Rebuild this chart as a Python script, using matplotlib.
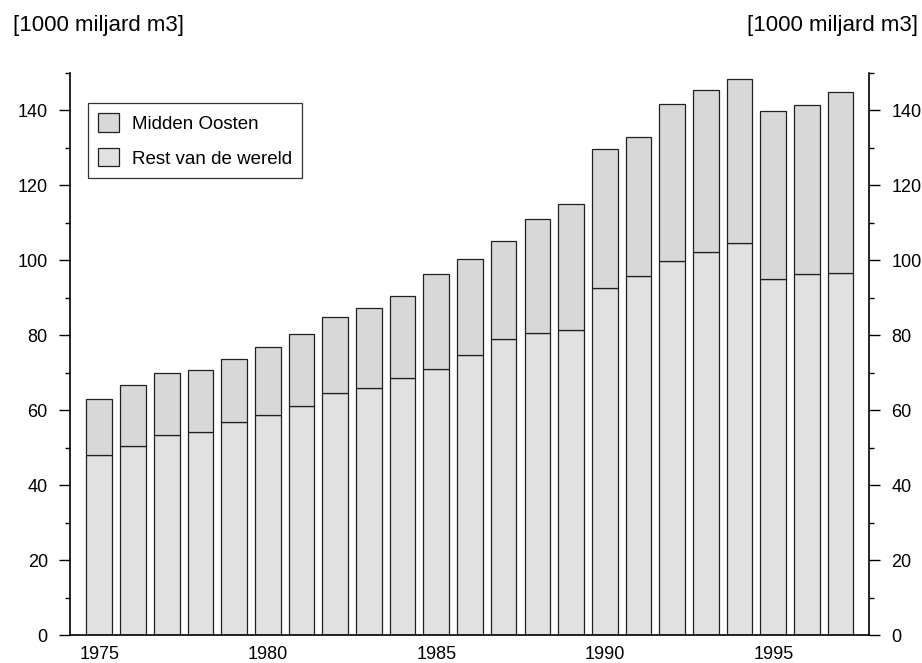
import matplotlib
matplotlib.use("Agg")
import matplotlib.pyplot as plt
from matplotlib.ticker import MultipleLocator
import numpy as np

plt.rcParams['font.family'] = ['Liberation Sans', 'DejaVu Sans']

years = list(range(1975, 1998))
rest_van_de_wereld = [48.0, 50.5, 53.4, 54.2, 56.8, 58.7, 61.0, 64.5, 66.0, 68.5,
                      71.1, 74.7, 79.0, 80.6, 81.5, 92.6, 95.9, 99.8, 102.2, 104.7,
                      95.1, 96.3, 96.7]
midden_oosten = [15.1, 16.2, 16.4, 16.6, 16.8, 18.1, 19.4, 20.3, 21.3, 21.9,
                 25.3, 25.6, 26.2, 30.4, 33.6, 37.0, 37.0, 42.0, 43.3, 43.7,
                 44.7, 45.2, 48.2]
year_labels = [1975, 1980, 1985, 1990, 1995]
unit_label = "[1000 miljard m3]"

fig = plt.figure(figsize=(9.22, 6.63), dpi=100)
ax = fig.add_axes([0.0759, 0.0422, 0.8666, 0.8477])

edge = '#202020'
lw = 0.9
width = 0.76
b_rest = ax.bar(years, rest_van_de_wereld, width=width, color='#e1e1e1',
                edgecolor=edge, linewidth=lw, label='Rest van de wereld')
b_mo = ax.bar(years, midden_oosten, width=width, bottom=rest_van_de_wereld,
              color='#d8d8d8', edgecolor=edge, linewidth=lw, label='Midden Oosten')

ax.set_xlim(1974.13, 1997.84)
ax.set_ylim(0, 150)

ax.spines['top'].set_visible(False)
for side in ['left', 'right', 'bottom']:
    ax.spines[side].set_linewidth(1.2)
    ax.spines[side].set_color('black')

ax.yaxis.set_major_locator(MultipleLocator(20))
ax.yaxis.set_minor_locator(MultipleLocator(10))
ax.tick_params(axis='y', which='major', direction='out', length=8, width=1.0,
               labelsize=13, pad=8, left=True, right=True,
               labelleft=True, labelright=True)
ax.tick_params(axis='y', which='minor', direction='out', length=3.6, width=1.0,
               left=True, right=True)
ax.set_xticks(year_labels)
ax.set_xticklabels([str(y) for y in year_labels])
ax.tick_params(axis='x', which='both', length=0, labelsize=13, pad=8.2)

leg = ax.legend(handles=[b_mo, b_rest], labels=['Midden Oosten', 'Rest van de wereld'],
                loc='upper left', bbox_to_anchor=(0.0225, 0.9465),
                frameon=True, fancybox=False, fontsize=13.5,
                handlelength=1.12, handleheight=1.12, labelspacing=0.82,
                handletextpad=0.68, borderpad=0.55, borderaxespad=0)
leg.get_frame().set_edgecolor('black')
leg.get_frame().set_linewidth(0.9)

fig.text(13 / 922, 1 - 25 / 663, unit_label, ha='left', va='center', fontsize=16)
fig.text(918 / 922, 1 - 25 / 663, unit_label, ha='right', va='center', fontsize=16)

fig.savefig('out.png', dpi=100)
